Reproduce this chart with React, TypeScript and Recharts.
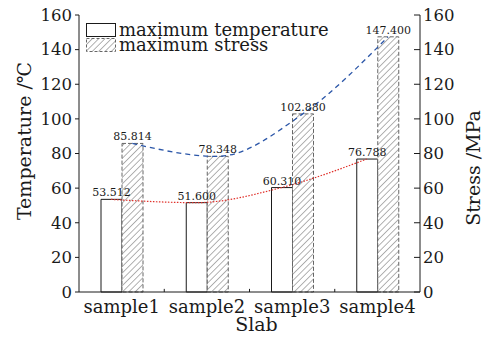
import React from 'react';
import {
    ComposedChart,
    Bar,
    Line,
    XAxis,
    YAxis,
    Legend,
    LabelList,
    ReferenceLine
} from 'recharts';

const samples = ['sample1', 'sample2', 'sample3', 'sample4'];
const maxTemperature = [53.512, 51.6, 60.31, 76.788];
const maxStress = [85.814, 78.348, 102.88, 147.4];
const yTicks = [0, 20, 40, 60, 80, 100, 120, 140, 160];
// small inward ticks between the categories
const categoryEdges = [1.5, 2.5, 3.5];

const FONT = '"DejaVu Serif", serif';
const INK = '#1a1a1a';

// lines sit on the centre of each bar, so give them their own numeric x positions
const data = samples.map((name, i) => ({
    name,
    temp: maxTemperature[i],
    stress: maxStress[i],
    xt: i + 1 - 0.125,
    xs: i + 1 + 0.125
}));

const fmt = (v: any) => Number(v).toFixed(3);

const LegendBox = () => (
    <div style={{ fontFamily: FONT, fontSize: 18, color: INK, lineHeight: '15px' }}>
        <div style={{ display: 'flex', alignItems: 'center', height: 15 }}>
            <svg width={30} height={14} style={{ marginRight: 3 }}>
                <rect x={0.5} y={0.5} width={29} height={13} fill="#fff" stroke={INK} />
            </svg>
            <span>maximum temperature</span>
        </div>
        <div style={{ display: 'flex', alignItems: 'center', height: 15 }}>
            <svg width={30} height={14} style={{ marginRight: 3 }}>
                <rect x={0.5} y={0.5} width={29} height={13} fill="url(#hatch)" stroke="#666" strokeDasharray="3 2" />
            </svg>
            <span>maximum stress</span>
        </div>
    </div>
);

const vTitle = (text: string, dx: number, cy: number) => ({ viewBox }: any) => {
    const x = viewBox.x + dx;
    const y = cy;
    return (
        <text x={x} y={y} transform={`rotate(-90, ${x}, ${y})`} textAnchor="middle"
            dominantBaseline="central" fontFamily={FONT} fontSize={19} fill={INK}>
            {text}
        </text>
    );
};

const slabTitle = ({ viewBox }: any) => (
    <text x={viewBox.x + viewBox.width / 2 + 7} y={324} textAnchor="middle" dominantBaseline="central"
        fontFamily={FONT} fontSize={19} fill={INK}>
        Slab
    </text>
);

const App = () => {
    return (
        <div style={{ position: 'absolute', left: 0, top: 0, width: 488, height: 338, background: '#fff' }}>
            <svg width={0} height={0} style={{ position: 'absolute' }}>
                <defs>
                    <pattern id="hatch" width={4.5} height={4.5} patternUnits="userSpaceOnUse" patternTransform="rotate(45)">
                        <rect width={4.5} height={4.5} fill="#fff" />
                        <line x1={0} y1={0} x2={0} y2={4.5} stroke="#555" strokeWidth={0.9} />
                    </pattern>
                </defs>
            </svg>
            <ComposedChart
                width={488}
                height={338}
                data={data}
                margin={{ top: 15, right: 0, bottom: 0, left: 0 }}
                barGap={0}
                barCategoryGap={21}
            >
                <XAxis
                    dataKey="name"
                    tickLine={false}
                    axisLine={{ stroke: INK }}
                    tick={{ fontFamily: FONT, fontSize: 18, fill: INK }}
                    tickMargin={2}
                    height={46}
                    label={{ content: slabTitle }}
                />
                <XAxis
                    xAxisId="t"
                    dataKey="xt"
                    type="number"
                    domain={[0.5, 4.5]}
                    orientation="top"
                    height={0}
                    tick={false}
                    tickLine={false}
                    axisLine={{ stroke: INK }}
                />
                <XAxis xAxisId="s" dataKey="xs" type="number" domain={[0.5, 4.5]} hide />
                <YAxis
                    yAxisId="l"
                    domain={[0, 160]}
                    ticks={yTicks}
                    width={79}
                    tickSize={4}
                    tickMargin={3}
                    axisLine={{ stroke: INK }}
                    tickLine={{ stroke: INK }}
                    tick={{ fontFamily: FONT, fontSize: 16.5, fill: INK }}
                    label={{ content: vTitle('Temperature /℃', 24, 141) }}
                />
                <YAxis
                    yAxisId="r"
                    orientation="right"
                    domain={[0, 160]}
                    ticks={yTicks}
                    width={68}
                    tickSize={-6}
                    tickMargin={9}
                    axisLine={{ stroke: INK }}
                    tickLine={{ stroke: INK }}
                    tick={{ fontFamily: FONT, fontSize: 16.5, fill: INK }}
                    label={{ content: vTitle('Stress /MPa', 53, 168) }}
                />
                <Legend
                    layout="vertical"
                    align="center"
                    verticalAlign="middle"
                    content={() => <LegendBox />}
                    wrapperStyle={{ position: 'absolute', top: 22, left: 86, width: 260 }}
                />
                {categoryEdges.map((x) => (
                    <ReferenceLine key={x} xAxisId="s" yAxisId="l" stroke={INK} strokeWidth={1}
                        segment={[{ x, y: 0 }, { x, y: 1.8 }]} />
                ))}
                <Bar yAxisId="l" dataKey="temp" barSize={21} fill="#fff" stroke={INK} strokeWidth={1} isAnimationActive={false}>
                    <LabelList dataKey="temp" position="top" offset={3} formatter={fmt}
                        style={{ fontFamily: FONT, fontSize: 11, fill: INK }} />
                </Bar>
                <Bar yAxisId="r" dataKey="stress" barSize={21} fill="url(#hatch)" stroke="#666" strokeDasharray="4 2" strokeWidth={1} isAnimationActive={false}>
                    <LabelList dataKey="stress" position="top" offset={3} formatter={fmt}
                        style={{ fontFamily: FONT, fontSize: 11, fill: INK }} />
                </Bar>
                <Line xAxisId="t" yAxisId="l" type="monotone" dataKey="temp" stroke="#e0302a" strokeWidth={1.2}
                    strokeDasharray="1.5 1.5" dot={false} activeDot={false} isAnimationActive={false} />
                <Line xAxisId="s" yAxisId="r" type="monotone" dataKey="stress" stroke="#2b56a8" strokeWidth={1.3}
                    strokeDasharray="5 4" dot={false} activeDot={false} isAnimationActive={false} />
            </ComposedChart>
        </div>
    );
};

export default App;
